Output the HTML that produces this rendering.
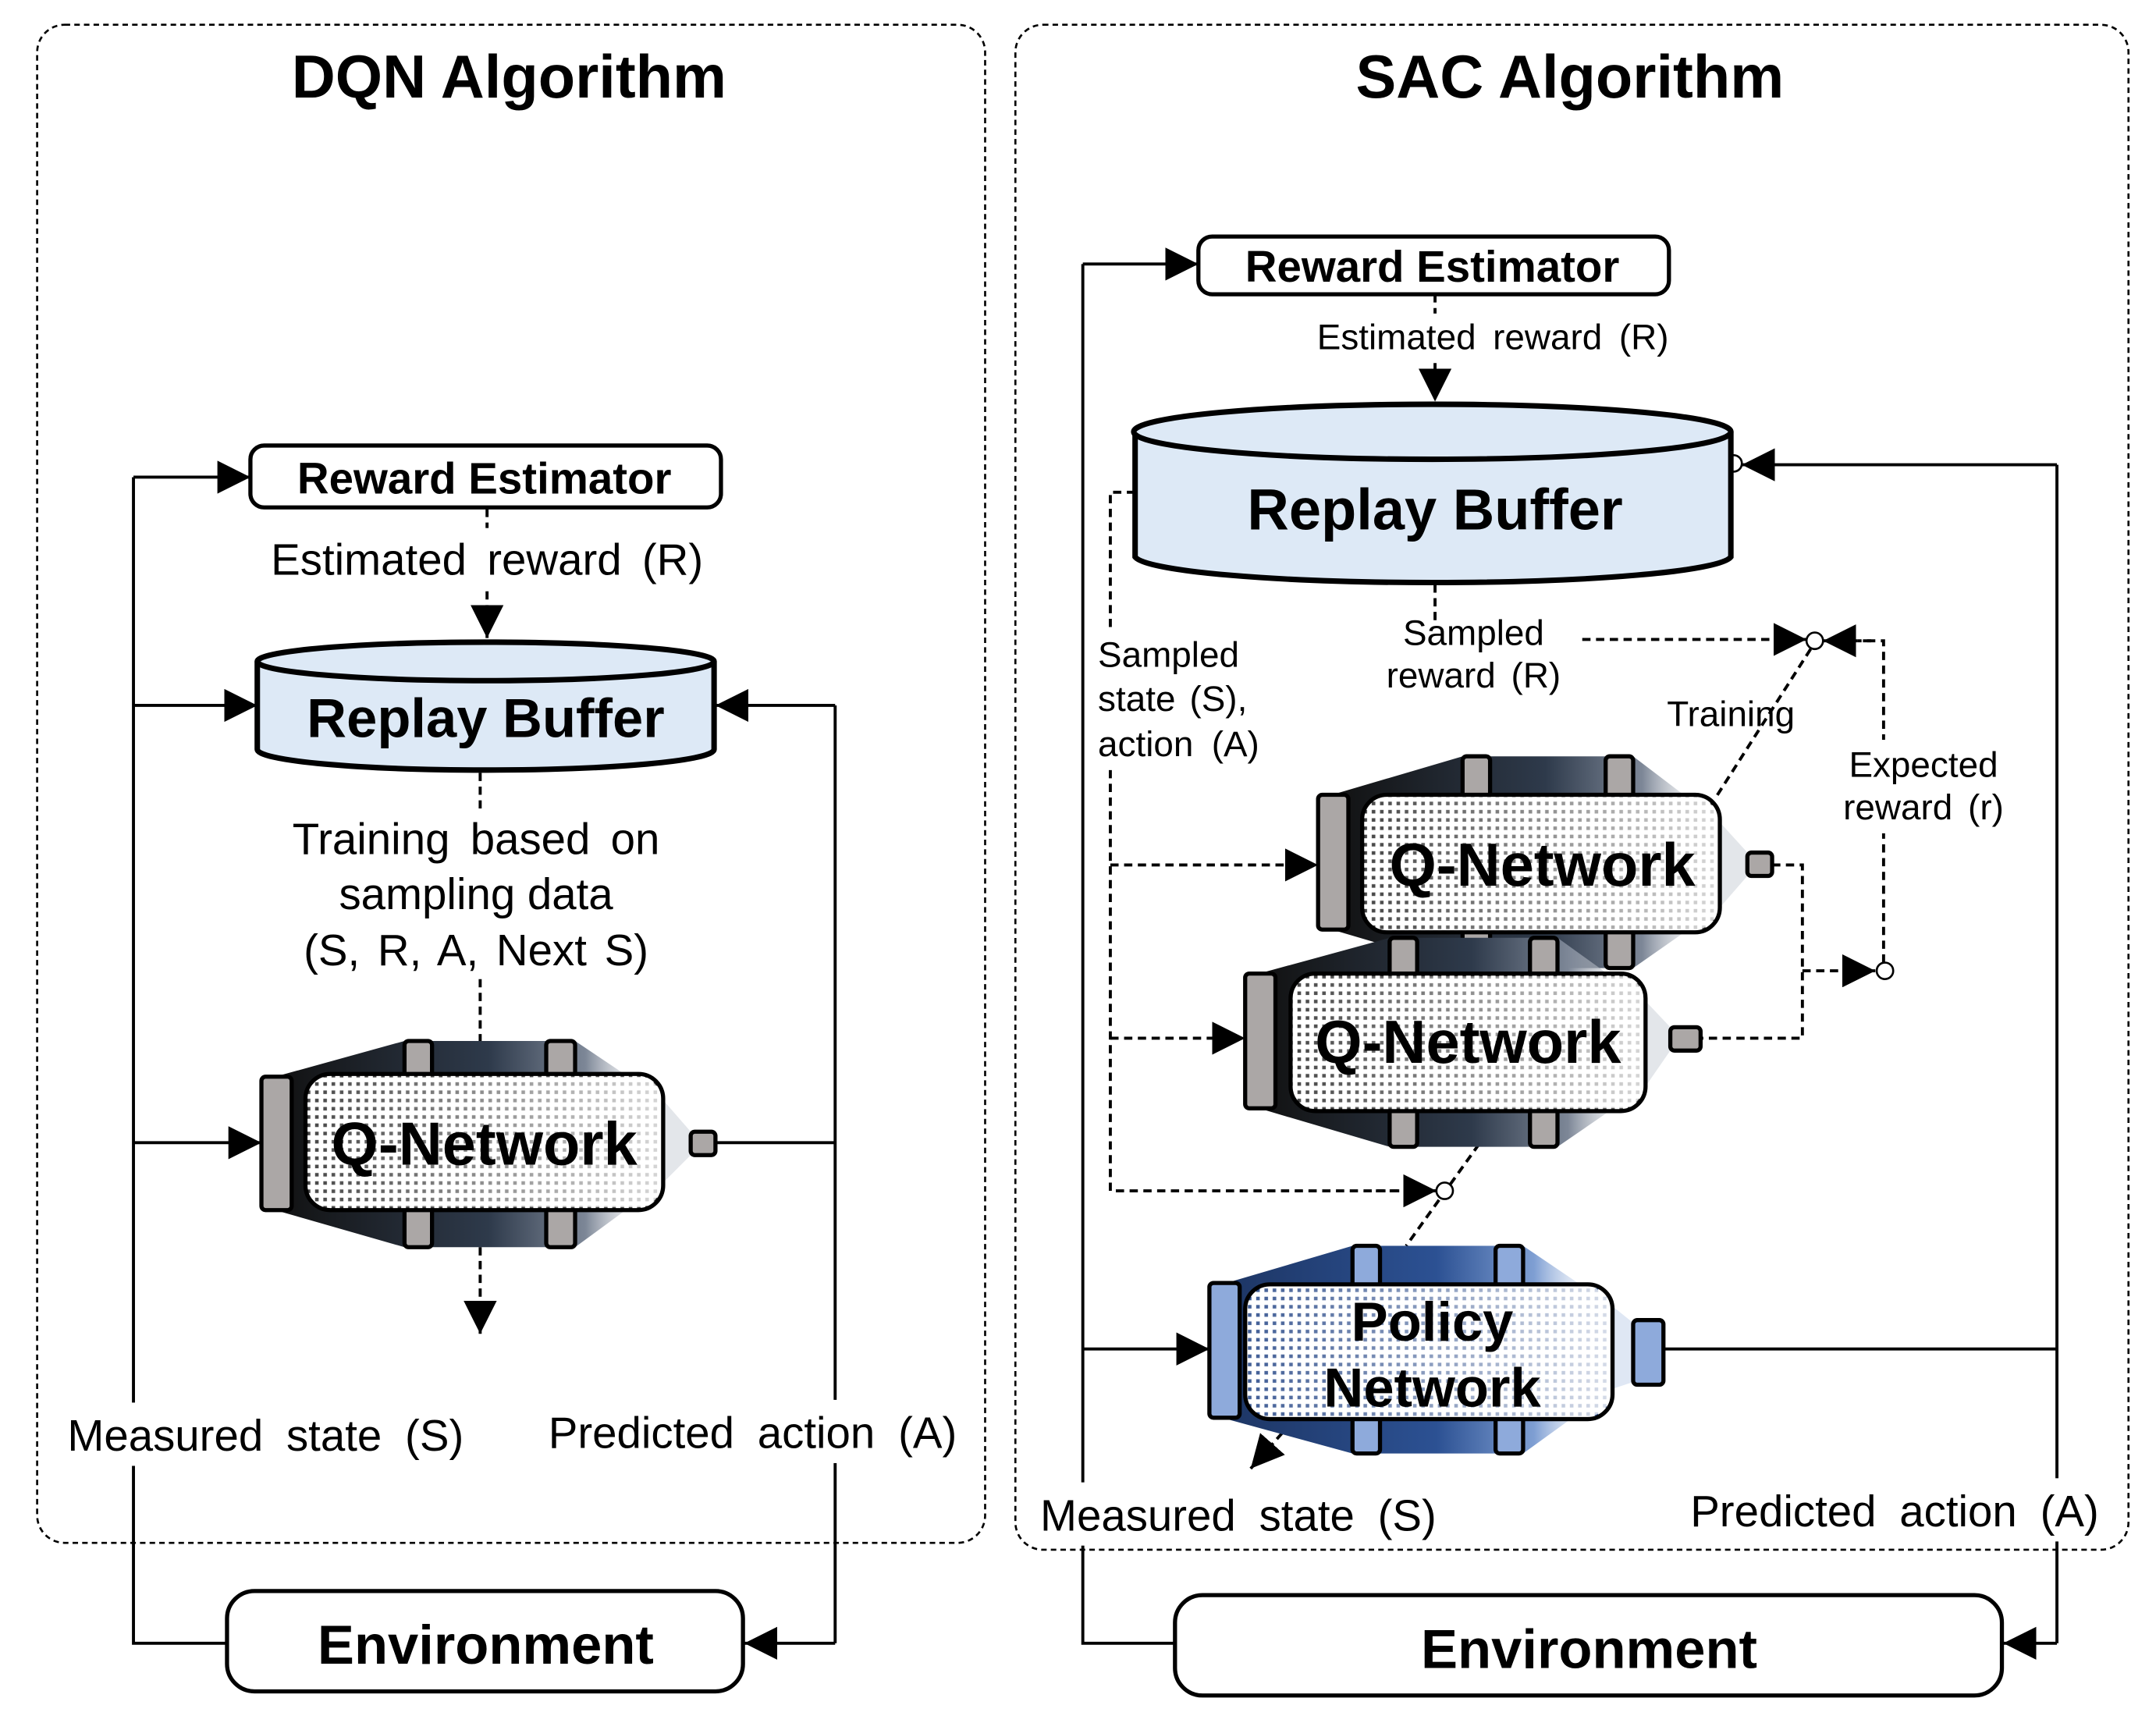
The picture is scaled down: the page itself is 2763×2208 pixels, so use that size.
<!DOCTYPE html>
<html><head><meta charset="utf-8"><style>
html,body{margin:0;padding:0;background:#fff;}
svg{display:block;}
text{font-family:"Liberation Sans",sans-serif;fill:#000;}
.b{font-weight:bold;}
</style></head><body>
<svg width="2763" height="2208" viewBox="0 0 1567 1253" preserveAspectRatio="none" xmlns="http://www.w3.org/2000/svg">
<defs>
<linearGradient id="dk" x1="0" x2="1" y1="0" y2="0">
<stop offset="0" stop-color="#111"/><stop offset="0.55" stop-color="#2e3a4b"/><stop offset="0.8" stop-color="#7d8797"/><stop offset="1" stop-color="#fff" stop-opacity="0"/>
</linearGradient>
<linearGradient id="bl" x1="0" x2="1" y1="0" y2="0">
<stop offset="0" stop-color="#1d3563"/><stop offset="0.55" stop-color="#2c5193"/><stop offset="0.8" stop-color="#7f9fd3"/><stop offset="1" stop-color="#fff" stop-opacity="0"/>
</linearGradient>
<pattern id="dots" width="6" height="6" patternUnits="userSpaceOnUse"><rect width="6" height="6" fill="#fff"/><rect x="1" y="1" width="2.6" height="2.6" fill="#333"/></pattern>
<pattern id="dotsb" width="6" height="6" patternUnits="userSpaceOnUse"><rect width="6" height="6" fill="#fff"/><rect x="1" y="1" width="2.6" height="2.6" fill="#2c4c8a"/></pattern>
<linearGradient id="wfade" x1="0" x2="1"><stop offset="0" stop-color="#fff" stop-opacity="0.1"/><stop offset="1" stop-color="#fff" stop-opacity="0.8"/></linearGradient>
<marker id="ar" viewBox="0 0 10 10" refX="10" refY="5" markerWidth="24" markerHeight="24" markerUnits="userSpaceOnUse" orient="auto"><path d="M0,0L10,5L0,10z" fill="#000"/></marker>
</defs>

<rect x="27" y="18" width="689" height="1104" rx="20" fill="none" stroke="#000" stroke-width="1.5" stroke-dasharray="4,3"/>
<rect x="738" y="18" width="809" height="1109" rx="20" fill="none" stroke="#000" stroke-width="1.5" stroke-dasharray="4,3"/>
<text x="370" y="71" font-size="44" class="b" text-anchor="middle">DQN  Algorithm</text>
<text x="1141" y="71" font-size="44" class="b" text-anchor="middle">SAC Algorithm</text>

<!-- ===== DQN ===== -->
<g stroke="#000" stroke-width="2.2" fill="none">
<polyline points="165,1195 97,1195 97,347"/>
<line x1="97" y1="347" x2="182" y2="347" marker-end="url(#ar)"/>
<line x1="97" y1="513" x2="187" y2="513" marker-end="url(#ar)"/>
<line x1="97" y1="831" x2="190" y2="831" marker-end="url(#ar)"/>
<polyline points="520,831 607,831"/>
<line x1="607" y1="513" x2="520" y2="513" marker-end="url(#ar)"/>
<polyline points="607,513 607,1195"/>
<line x1="607" y1="1195" x2="541" y2="1195" marker-end="url(#ar)"/>
<g stroke-dasharray="6,4">
<line x1="354" y1="370" x2="354" y2="464" marker-end="url(#ar)"/>
<line x1="349" y1="562" x2="349" y2="757"/>
<line x1="349" y1="907" x2="349" y2="970" marker-end="url(#ar)"/>
</g>
</g>
<rect x="192" y="384" width="325" height="44" fill="#fff"/>
<text x="354" y="418" font-size="32" text-anchor="middle" word-spacing="6">Estimated reward (R)</text>
<rect x="200" y="588" width="300" height="124" fill="#fff"/>
<text x="346" y="621" font-size="32" text-anchor="middle" word-spacing="6">Training based on</text>
<text x="346" y="661" font-size="32" text-anchor="middle">sampling data</text>
<text x="346" y="702" font-size="32" text-anchor="middle" word-spacing="4">(S, R, A, Next S)</text>
<rect x="45" y="1020" width="300" height="46" fill="#fff"/>
<text x="193" y="1055" font-size="32" text-anchor="middle" word-spacing="8">Measured state (S)</text>
<rect x="390" y="1018" width="315" height="46" fill="#fff"/>
<text x="547" y="1053" font-size="32" text-anchor="middle" word-spacing="8">Predicted action (A)</text>

<rect x="182" y="324" width="342" height="45" rx="10" fill="#fff" stroke="#000" stroke-width="3"/>
<text x="352" y="359" font-size="32" class="b" text-anchor="middle">Reward Estimator</text>

<path d="M187,481 L187,545 A166,15 0 0 0 519,545 L519,481" fill="#dde9f6" stroke="#000" stroke-width="4"/>
<ellipse cx="353" cy="481" rx="166" ry="14" fill="#dde9f6" stroke="#000" stroke-width="4"/>
<text x="353" y="536" font-size="40" class="b" text-anchor="middle">Replay Buffer</text>

<rect x="165" y="1157" width="375" height="73" rx="20" fill="#fff" stroke="#000" stroke-width="3"/>
<text x="353" y="1210" font-size="40" class="b" text-anchor="middle">Environment</text>

<g>
<polygon points="200,783 294,757 418,757 482,800 482,860 418,907 294,907 200,880" fill="url(#dk)"/>
<polygon points="482,800 502,823 502,840 482,860" fill="#e3e6ea"/>
<rect x="294" y="757" width="20" height="30" rx="3" fill="#aba7a6" stroke="#000" stroke-width="3"/>
<rect x="397" y="757" width="21" height="30" rx="3" fill="#aba7a6" stroke="#000" stroke-width="3"/>
<rect x="294" y="876" width="20" height="31" rx="3" fill="#aba7a6" stroke="#000" stroke-width="3"/>
<rect x="397" y="876" width="21" height="31" rx="3" fill="#aba7a6" stroke="#000" stroke-width="3"/>
<rect x="190" y="783" width="22" height="97" rx="3" fill="#aba7a6" stroke="#000" stroke-width="3"/>
<rect x="222" y="781" width="260" height="99" rx="18" fill="url(#dots)" stroke="#000" stroke-width="3"/>
<rect x="224" y="783" width="256" height="95" rx="16" fill="url(#wfade)"/>
<rect x="502" y="823" width="18" height="17" rx="3" fill="#aba7a6" stroke="#000" stroke-width="3"/>
<text x="352" y="847" font-size="44" class="b" text-anchor="middle">Q-Network</text>
</g>

<!-- ===== SAC ===== -->
<g stroke="#000" stroke-width="2.2" fill="none">
<polyline points="854,1195 787,1195 787,192"/>
<line x1="787" y1="192" x2="871" y2="192" marker-end="url(#ar)"/>
<line x1="787" y1="981" x2="879" y2="981" marker-end="url(#ar)"/>
<polyline points="1209,981 1495,981"/>
<polyline points="1495,338 1495,1195"/>
<line x1="1495" y1="338" x2="1266" y2="338" marker-end="url(#ar)"/>
<line x1="1495" y1="1195" x2="1456" y2="1195" marker-end="url(#ar)"/>
<g stroke-dasharray="6,4">
<line x1="1043" y1="214" x2="1043" y2="292" marker-end="url(#ar)"/>
<polyline points="825,358 807,358 807,866 1044,866"/>
<line x1="1000" y1="866" x2="1044" y2="866" marker-end="url(#ar)"/>
<line x1="807" y1="629" x2="958" y2="629" marker-end="url(#ar)"/>
<line x1="807" y1="755" x2="905" y2="755" marker-end="url(#ar)"/>
<line x1="1043" y1="425" x2="1043" y2="452"/>
<line x1="1150" y1="465" x2="1313" y2="465" marker-end="url(#ar)"/>
<polyline points="1369,700 1369,466 1350,466"/>
<line x1="1360" y1="466" x2="1325" y2="466" marker-end="url(#ar)"/>
<polyline points="1288,629 1310,629 1310,755 1236,755"/>
<line x1="1310" y1="706" x2="1363" y2="706" marker-end="url(#ar)"/>
<line x1="1316" y1="472" x2="1247" y2="580"/>
<line x1="1075" y1="832" x2="1022" y2="906"/>
<line x1="932" y1="1042" x2="909" y2="1068" marker-end="url(#ar)"/>
</g>
</g>
<circle cx="1319" cy="466" r="6" fill="#fff" stroke="#000" stroke-width="1.5"/>
<circle cx="1370" cy="706" r="6" fill="#fff" stroke="#000" stroke-width="1.5"/>
<circle cx="1050" cy="866" r="6" fill="#fff" stroke="#000" stroke-width="1.5"/>
<circle cx="1260" cy="337" r="6" fill="#fff" stroke="#000" stroke-width="1.5"/>

<rect x="955" y="228" width="260" height="34" fill="#fff"/>
<text x="1085" y="254" font-size="26" text-anchor="middle" word-spacing="5">Estimated reward (R)</text>
<rect x="795" y="458" width="120" height="100" fill="#fff"/>
<text x="798" y="485" font-size="26">Sampled</text>
<text x="798" y="517" font-size="26" word-spacing="3">state (S),</text>
<text x="798" y="550" font-size="26" word-spacing="6">action (A)</text>
<text x="1071" y="469" font-size="26" text-anchor="middle">Sampled</text>
<text x="1071" y="500" font-size="26" text-anchor="middle" word-spacing="4">reward (R)</text>
<text x="1258" y="528" font-size="26" text-anchor="middle">Training</text>
<rect x="1335" y="538" width="125" height="68" fill="#fff"/>
<text x="1398" y="565" font-size="26" text-anchor="middle">Expected</text>
<text x="1398" y="596" font-size="26" text-anchor="middle" word-spacing="4">reward (r)</text>
<rect x="752" y="1078" width="300" height="46" fill="#fff"/>
<text x="900" y="1113" font-size="32" text-anchor="middle" word-spacing="8">Measured state (S)</text>
<rect x="1220" y="1075" width="315" height="46" fill="#fff"/>
<text x="1377" y="1110" font-size="32" text-anchor="middle" word-spacing="8">Predicted action (A)</text>

<rect x="871" y="172" width="342" height="42" rx="10" fill="#fff" stroke="#000" stroke-width="3"/>
<text x="1041" y="205" font-size="32" class="b" text-anchor="middle">Reward Estimator</text>

<path d="M825,314 L825,405 A217,20 0 0 0 1258,405 L1258,314" fill="#dde9f6" stroke="#000" stroke-width="4"/>
<ellipse cx="1041" cy="314" rx="217" ry="20" fill="#dde9f6" stroke="#000" stroke-width="4"/>
<text x="1043" y="385" font-size="42" class="b" text-anchor="middle">Replay Buffer</text>

<rect x="854" y="1160" width="601" height="73" rx="20" fill="#fff" stroke="#000" stroke-width="3"/>
<text x="1155" y="1213" font-size="40" class="b" text-anchor="middle">Environment</text>

<g>
<polygon points="968,578 1063,550 1187,550 1250,598 1250,660 1187,704 1063,704 968,676" fill="url(#dk)"/>
<polygon points="1250,598 1270,620 1270,637 1250,660" fill="#e3e6ea"/>
<rect x="1063" y="550" width="20" height="30" rx="3" fill="#aba7a6" stroke="#000" stroke-width="3"/>
<rect x="1167" y="550" width="20" height="30" rx="3" fill="#aba7a6" stroke="#000" stroke-width="3"/>
<rect x="1063" y="675" width="20" height="29" rx="3" fill="#aba7a6" stroke="#000" stroke-width="3"/>
<rect x="1167" y="675" width="20" height="29" rx="3" fill="#aba7a6" stroke="#000" stroke-width="3"/>
<rect x="958" y="578" width="22" height="98" rx="3" fill="#aba7a6" stroke="#000" stroke-width="3"/>
<rect x="990" y="578" width="260" height="100" rx="18" fill="url(#dots)" stroke="#000" stroke-width="3"/>
<rect x="992" y="580" width="256" height="96" rx="16" fill="url(#wfade)"/>
<rect x="1270" y="620" width="18" height="17" rx="3" fill="#aba7a6" stroke="#000" stroke-width="3"/>
<text x="1121" y="644" font-size="44" class="b" text-anchor="middle">Q-Network</text>
</g>
<g>
<polygon points="915,708 1010,682 1132,682 1196,728 1196,790 1132,834 1010,834 915,806" fill="url(#dk)"/>
<polygon points="1196,728 1214,747 1214,764 1196,790" fill="#e3e6ea"/>
<rect x="1010" y="682" width="20" height="30" rx="3" fill="#aba7a6" stroke="#000" stroke-width="3"/>
<rect x="1112" y="682" width="20" height="30" rx="3" fill="#aba7a6" stroke="#000" stroke-width="3"/>
<rect x="1010" y="805" width="20" height="29" rx="3" fill="#aba7a6" stroke="#000" stroke-width="3"/>
<rect x="1112" y="805" width="20" height="29" rx="3" fill="#aba7a6" stroke="#000" stroke-width="3"/>
<rect x="905" y="708" width="22" height="98" rx="3" fill="#aba7a6" stroke="#000" stroke-width="3"/>
<rect x="938" y="708" width="258" height="100" rx="18" fill="url(#dots)" stroke="#000" stroke-width="3"/>
<rect x="940" y="710" width="254" height="96" rx="16" fill="url(#wfade)"/>
<rect x="1214" y="747" width="22" height="17" rx="3" fill="#aba7a6" stroke="#000" stroke-width="3"/>
<text x="1067" y="773" font-size="44" class="b" text-anchor="middle">Q-Network</text>
</g>
<g>
<polygon points="888,934 983,906 1107,906 1172,950 1172,1010 1107,1057 983,1057 888,1031" fill="url(#bl)"/>
<polygon points="1172,950 1187,962 1187,1005 1172,1010" fill="#dfe7f4"/>
<rect x="983" y="906" width="20" height="31" rx="3" fill="#8eaadb" stroke="#000" stroke-width="3"/>
<rect x="1087" y="906" width="20" height="31" rx="3" fill="#8eaadb" stroke="#000" stroke-width="3"/>
<rect x="983" y="1029" width="20" height="28" rx="3" fill="#8eaadb" stroke="#000" stroke-width="3"/>
<rect x="1087" y="1029" width="20" height="28" rx="3" fill="#8eaadb" stroke="#000" stroke-width="3"/>
<rect x="879" y="933" width="22" height="98" rx="3" fill="#8eaadb" stroke="#000" stroke-width="3"/>
<rect x="905" y="934" width="267" height="98" rx="18" fill="url(#dotsb)" stroke="#000" stroke-width="3"/>
<rect x="907" y="936" width="263" height="94" rx="16" fill="url(#wfade)"/>
<rect x="1187" y="960" width="22" height="47" rx="3" fill="#8eaadb" stroke="#000" stroke-width="3"/>
<text x="1041" y="975" font-size="40" class="b" text-anchor="middle">Policy</text>
<text x="1041" y="1023" font-size="40" class="b" text-anchor="middle">Network</text>
</g>
</svg>
</body></html>
